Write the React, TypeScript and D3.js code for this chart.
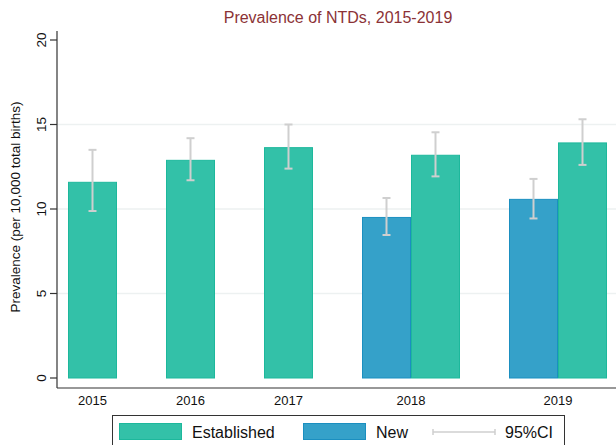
import * as d3 from "d3";

const WIDTH = 616;
const HEIGHT = 445;

const years = ["2015", "2016", "2017", "2018", "2019"];
const established = [11.58, 12.88, 13.63, 13.18, 13.91];
const establishedLo = [9.88, 11.7, 12.39, 11.93, 12.61];
const establishedHi = [13.5, 14.19, 15.0, 14.54, 15.31];
const newCases = [null, null, null, 9.5, 10.57];
const newLo = [null, null, null, 8.46, 9.44];
const newHi = [null, null, null, 10.65, 11.78];
const yTicks = [0, 5, 10, 15, 20];

const EST_FILL = "#33c1a8";
const EST_STROKE = "#1db89c";
const NEW_FILL = "#35a1c9";
const NEW_STROKE = "#1b8fc0";
const CI_COLOR = "#cfcfcf";
const FONT = "'Liberation Sans', Arial, sans-serif";

type Bar = {
  key: string;
  year: string;
  series: "new" | "est";
  value: number;
  lo: number;
  hi: number;
};

// bars in drawing order, "New" before "Established" in each year
const bars: Bar[] = [];
years.forEach((yr, i) => {
  if (newCases[i] != null) {
    bars.push({ key: yr + "-new", year: yr, series: "new", value: newCases[i] as number, lo: newLo[i] as number, hi: newHi[i] as number });
  }
  bars.push({ key: yr + "-est", year: yr, series: "est", value: established[i], lo: establishedLo[i], hi: establishedHi[i] });
});

// slots with one empty slot between years
const slots: string[] = [];
years.forEach((yr, i) => {
  if (i > 0) slots.push("gap-" + yr);
  bars.filter((b) => b.year === yr).forEach((b) => slots.push(b.key));
});

export default function App() {
  const left = 57;
  const right = 618;
  const top = 31;
  const bottom = 388;

  const x = d3.scaleBand<string>().domain(slots).range([left, right]).paddingInner(0).paddingOuter(11 / 49);
  const y = d3.scaleLinear().domain([0, 20]).range([378, 40]);
  const bw = x.bandwidth();

  const yearCenter = (yr: string) => {
    const bs = bars.filter((b) => b.year === yr);
    const x0 = x(bs[0].key) as number;
    const x1 = (x(bs[bs.length - 1].key) as number) + bw;
    return (x0 + x1) / 2;
  };

  return (
    <svg width={WIDTH} height={HEIGHT} style={{ position: "absolute", left: 0, top: 0, background: "#fff" }} fontFamily={FONT}>
      <rect width={WIDTH} height={HEIGHT} fill="#fff" />
      <text x={338} y={23} textAnchor="middle" fontSize={16} fill="#8b3236">
        Prevalence of NTDs, 2015-2019
      </text>

      {yTicks.filter((t) => t > 0 && t < 20).map((t) => (
        <line key={"g" + t} x1={left} x2={right} y1={y(t)} y2={y(t)} stroke="#edf1f1" strokeWidth={1.3} />
      ))}

      {bars.map((b) => (
        <rect
          key={b.key}
          x={(x(b.key) as number) + 0.5}
          y={y(b.value)}
          width={bw - 1}
          height={y(0) - y(b.value)}
          fill={b.series === "est" ? EST_FILL : NEW_FILL}
          stroke={b.series === "est" ? EST_STROKE : NEW_STROKE}
          strokeWidth={1}
        />
      ))}

      {bars.map((b) => {
        const cx = (x(b.key) as number) + bw / 2;
        return (
          <g key={"ci" + b.key} stroke={CI_COLOR} strokeWidth={2}>
            <line x1={cx} x2={cx} y1={y(b.hi)} y2={y(b.lo)} />
            <line x1={cx - 4} x2={cx + 4} y1={y(b.hi)} y2={y(b.hi)} />
            <line x1={cx - 4} x2={cx + 4} y1={y(b.lo)} y2={y(b.lo)} />
          </g>
        );
      })}

      <line x1={left} x2={left} y1={top} y2={bottom} stroke="#333" strokeWidth={1.2} />
      <line x1={left} x2={right} y1={bottom} y2={bottom} stroke="#333" strokeWidth={1.2} />

      {yTicks.map((t) => (
        <g key={"t" + t}>
          <line x1={left - 7} x2={left} y1={y(t)} y2={y(t)} stroke="#333" strokeWidth={1.2} />
          <text
            transform={`translate(${46},${y(t)}) rotate(-90)`}
            textAnchor="middle"
            fontSize={13.5}
            fill="#111"
          >
            {t}
          </text>
        </g>
      ))}

      <text transform={`translate(20,${207}) rotate(-90)`} textAnchor="middle" fontSize={13.5} fill="#111">
        Prevalence (per 10,000 total births)
      </text>

      {years.map((yr) => (
        <text key={"x" + yr} x={yearCenter(yr)} y={405} textAnchor="middle" fontSize={13} fill="#111">
          {yr}
        </text>
      ))}

      <g>
        <rect x={112.5} y={415.5} width={452} height={50} fill="#fff" stroke="#333" strokeWidth={1} />
        <rect x={119.5} y={423.5} width={62} height={16} fill={EST_FILL} stroke={EST_STROKE} />
        <text x={192} y={438} fontSize={16} fill="#111">Established</text>
        <rect x={303.5} y={423.5} width={62} height={16} fill={NEW_FILL} stroke={NEW_STROKE} />
        <text x={376} y={438} fontSize={16} fill="#111">New</text>
        <g stroke={CI_COLOR} strokeWidth={1.5}>
          <line x1={433} x2={495} y1={432} y2={432} />
          <line x1={433} x2={433} y1={429} y2={435} />
          <line x1={495} x2={495} y1={429} y2={435} />
        </g>
        <text x={505} y={438} fontSize={16} fill="#111">95%CI</text>
      </g>
    </svg>
  );
}
